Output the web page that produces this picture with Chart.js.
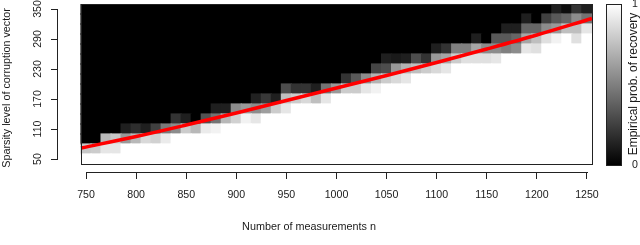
<!DOCTYPE html>
<html>
<head>
<meta charset="utf-8">
<script src="https://cdn.jsdelivr.net/npm/chart.js@4.4.1/dist/chart.umd.min.js"></script>
<style>
  html, body { margin: 0; padding: 0; background: #fff; }
  #heat { display: block; }
</style>
</head>
<body>
<canvas id="heat" width="640" height="245"></canvas>
<script>
// number of measurements (columns) and sparsity levels (rows)
const nValues = [750, 760, 770, 780, 790, 800, 810, 820, 830, 840, 850, 860, 870, 880, 890, 900, 910,
  920, 930, 940, 950, 960, 970, 980, 990, 1000, 1010, 1020, 1030, 1040, 1050, 1060, 1070, 1080, 1090,
  1100, 1110, 1120, 1130, 1140, 1150, 1160, 1170, 1180, 1190, 1200, 1210, 1220, 1230, 1240, 1250];
const sparsity = [50, 70, 90, 110, 130, 150, 170, 190, 210, 230, 250, 270, 290, 310, 330, 350];
const xTicks = [750, 800, 850, 900, 950, 1000, 1050, 1100, 1150, 1200, 1250];
const yTicks = [50, 110, 170, 230, 290, 350];

// per column: first row (index into sparsity) that is not full recovery,
// then the recovery probabilities going up; rows below = 1, rows above = 0
const firstGrayRow = [1, 1, 1, 1, 2, 2, 2, 2, 2, 3, 3, 3, 3, 3, 4, 4, 4, 4, 5, 5, 5, 6, 6, 6, 6,
  7, 7, 7, 7, 7, 8, 8, 8, 9, 9, 9, 9, 10, 10, 10, 10, 10, 11, 11, 11, 11, 12, 12, 13, 12, 13];
const grayBand = [
  [0.78], [0.8], [0.9, 0.72], [0.9, 0.78], [0.6, 0.12], [0.72, 0.18], [0.85, 0.12], [0.82, 0.25],
  [0.92, 0.48], [0.55, 0.2], [0.8, 0.12], [0.72], [0.92, 0.32], [0.95, 0.45, 0.12], [0.72, 0.12],
  [0.82, 0.55], [0.95, 0.6], [0.9, 0.55, 0.13], [0.62, 0.22], [0.8, 0.12], [0.9, 0.75, 0.3],
  [0.8, 0.2], [0.85, 0.2], [0.75, 0.12], [0.9, 0.45], [0.6], [0.8, 0.2], [0.8, 0.35], [0.9, 0.55],
  [0.95, 0.7, 0.27], [0.8, 0.3, 0.12], [0.85, 0.6, 0.1], [0.9, 0.7, 0.12], [0.75, 0.3], [0.8, 0.2],
  [0.85, 0.6, 0.12], [0.9, 0.65, 0.2], [0.8, 0.5], [0.88, 0.5], [0.88, 0.65, 0.12], [0.88, 0.55],
  [0.9, 0.55, 0.35], [0.5, 0.35, 0.12], [0.55, 0.4, 0.12], [0.9, 0.65, 0.4, 0.12], [0.88, 0.75, 0.4],
  [0.88, 0.55, 0.25], [0.95, 0.6, 0.35, 0.12], [0.75, 0.4, 0.05], [0.88, 0.75, 0.55, 0.2], [0.9, 0.45, 0.12]
];

// red phase-transition curve
const curveN = [745, 800, 850, 900, 950, 1000, 1050, 1100, 1150, 1200, 1255];
const curveS = [72, 95, 118, 142, 167, 192, 217, 243, 270, 298, 331];

const FONT = "'Liberation Sans', Arial, sans-serif";
Chart.defaults.font.family = FONT;
Chart.defaults.font.size = 10.6;
Chart.defaults.color = '#1a1a1a';

function prob(i, j) {
  if (j < firstGrayRow[i]) return 1;
  const k = j - firstGrayRow[i];
  return k < grayBand[i].length ? grayBand[i][k] : 0;
}
function gray(p) {
  const v = Math.round(p * 255);
  return `rgb(${v},${v},${v})`;
}
function noPad(s) {
  s.paddingLeft = 0; s.paddingRight = 0; s.paddingTop = 0; s.paddingBottom = 0;
}

const halfW = (nValues[1] - nValues[0]) / 2;
const halfH = (sparsity[1] - sparsity[0]) / 2;

const rowSets = sparsity.map((s, j) => ({
  type: 'bar',
  data: nValues.map(n => ({ x: n, y: [s - halfH, s + halfH] })),
  backgroundColor: nValues.map((n, i) => gray(prob(i, j))),
  borderWidth: 0,
  inflateAmount: 0.6,
  barPercentage: 1,
  categoryPercentage: 1,
  grouped: false,
  order: 1
}));

const curveSet = {
  type: 'line',
  data: curveN.map((n, k) => ({ x: n, y: curveS[k] })),
  borderColor: 'rgb(255,0,0)',
  borderWidth: 3.5,
  pointRadius: 0,
  tension: 0.35,
  order: 0
};

const decor = {
  id: 'decor',
  afterDatasetsDraw(chart) {
    const { ctx, scales: { x, y } } = chart;
    const l = x.getPixelForValue(nValues[0] - halfW);
    const r = x.getPixelForValue(nValues[nValues.length - 1] + halfW);
    const t = y.getPixelForValue(sparsity[sparsity.length - 1] + halfH);
    const b = y.getPixelForValue(sparsity[0] - halfH);
    ctx.save();
    // white margin outside the cells, then the box
    ctx.fillStyle = '#fff';
    ctx.fillRect(l - 3, b + 1, r - l + 6, 4);
    ctx.strokeStyle = '#222';
    ctx.lineWidth = 1;
    ctx.strokeRect(Math.round(l) + 0.5, Math.round(t) + 0.5, Math.round(r - l), Math.round(b - t));
    ctx.restore();
  },
  afterDraw(chart) {
    const { ctx, scales: { x, y, yc } } = chart;
    ctx.save();
    ctx.strokeStyle = '#222';
    ctx.lineWidth = 1;
    // detached axis lines
    const ax = Math.round(x.top) + 0.5;
    ctx.beginPath();
    ctx.moveTo(Math.round(x.getPixelForValue(xTicks[0])), ax);
    ctx.lineTo(Math.round(x.getPixelForValue(xTicks[xTicks.length - 1])) + 1, ax);
    const ay = Math.round(y.right) - 0.5;
    ctx.moveTo(ay, Math.round(y.getPixelForValue(yTicks[0])) + 1);
    ctx.lineTo(ay, Math.round(y.getPixelForValue(yTicks[yTicks.length - 1])));
    ctx.stroke();

    // colour bar
    const cbR = Math.round(yc.left);
    const cbL = cbR - 16;
    const cbT = yc.getPixelForValue(1);
    const cbB = yc.getPixelForValue(0);
    const grad = ctx.createLinearGradient(0, cbB, 0, cbT);
    grad.addColorStop(0, gray(0));
    grad.addColorStop(1, gray(1));
    ctx.fillStyle = grad;
    ctx.fillRect(cbL, cbT, cbR - cbL, cbB - cbT);
    ctx.strokeRect(cbL + 0.5, Math.round(cbT) + 0.5, cbR - cbL - 1, Math.round(cbB - cbT));

    // text
    ctx.fillStyle = '#1a1a1a';
    ctx.textAlign = 'center';
    ctx.textBaseline = 'middle';
    ctx.font = '10.8px ' + FONT;
    ctx.fillText('Number of measurements n', 309, 227.5);

    // rotated y tick labels, R style
    ctx.font = '10.6px ' + FONT;
    yTicks.forEach(v => {
      ctx.save();
      ctx.translate(y.right - 20, y.getPixelForValue(v));
      ctx.rotate(-Math.PI / 2);
      ctx.fillText(String(v), 0, 0);
      ctx.restore();
    });

    ctx.translate(634, 84);
    ctx.rotate(-Math.PI / 2);
    ctx.font = '12px ' + FONT;
    ctx.fillText('Empirical prob. of recovery', 0, 0);
    ctx.restore();
  }
};

new Chart(document.getElementById('heat'), {
  type: 'bar',
  data: { datasets: [...rowSets, curveSet] },
  options: {
    responsive: false,
    animation: false,
    layout: { padding: { top: 4 } },
    plugins: { legend: { display: false }, tooltip: { enabled: false } },
    scales: {
      x: {
        type: 'linear',
        min: 722,
        max: 1285,
        offset: false,
        afterBuildTicks: s => { s.ticks = xTicks.map(v => ({ value: v })); },
        afterFit: s => { s.height = 73; noPad(s); },
        grid: { offset: false, drawOnChartArea: false, tickLength: 7, tickColor: '#222' },
        border: { display: false },
        ticks: { padding: 10, maxRotation: 0, autoSkip: false, callback: v => String(v) }
      },
      y: {
        type: 'linear',
        min: 24,
        max: 360,
        afterBuildTicks: s => { s.ticks = yTicks.map(v => ({ value: v })); },
        afterFit: s => { s.width = 58; noPad(s); },
        grid: { drawOnChartArea: false, tickLength: 7, tickColor: '#222' },
        border: { display: false },
        ticks: { display: false },
        title: {
          display: true,
          text: 'Sparsity level of corruption vector',
          font: { size: 10.8 },
          padding: { top: 1, bottom: 0 }
        }
      },
      yc: {
        type: 'linear',
        position: 'right',
        min: -0.0435,
        max: 1,
        afterBuildTicks: s => { s.ticks = [{ value: 0 }, { value: 1 }]; },
        afterFit: s => { s.width = 18; noPad(s); },
        grid: { display: false },
        border: { display: false },
        ticks: { padding: 2 }
      }
    }
  },
  plugins: [decor]
});
</script>
</body>
</html>
